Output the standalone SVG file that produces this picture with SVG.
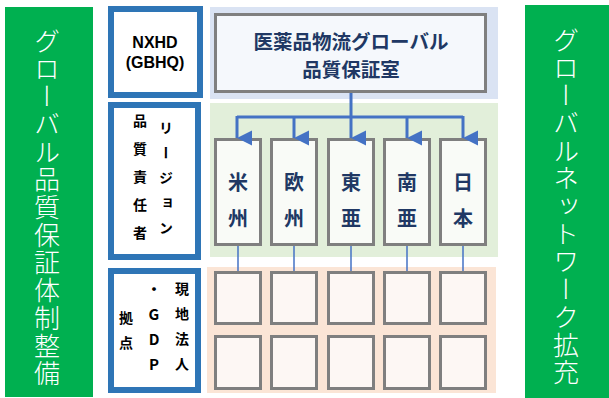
<svg xmlns="http://www.w3.org/2000/svg" width="609" height="398" viewBox="0 0 609 398">
<defs>
<style>
.jp{font-family:"Noto Sans CJK JP","Noto Sans",sans-serif;}
.side{fill:#ffffff;font-size:26px;font-weight:300;writing-mode:vertical-rl;text-anchor:middle;letter-spacing:1.7px;}
.blue{fill:none;stroke:#2e75b6;stroke-width:6;}
.gray{stroke:#7f7f7f;stroke-width:3;}
.lbl{fill:#000;font-size:14px;font-weight:700;writing-mode:vertical-rl;text-anchor:middle;}
.navy{fill:#203864;font-weight:700;text-anchor:middle;dominant-baseline:central;}
.conn{stroke:#4472c4;fill:none;}
</style>
<marker id="ah" markerUnits="userSpaceOnUse" markerWidth="16" markerHeight="16" viewBox="0 0 16 16" refX="8" refY="15" orient="auto-start-reverse">
<path d="M0.5,0 L15.5,0 L8,15 Z" fill="#4472c4"/>
</marker>
</defs>
<rect width="609" height="398" fill="#ffffff"/>

<g id="left-bar">
<rect x="5" y="7" width="88" height="390" fill="#00b050"/>
<text class="jp side" x="47" y="208">グローバル品質保証体制整備</text>
</g>
<g id="right-bar">
<rect x="525" y="5" width="84" height="393" fill="#00b050"/>
<text class="jp side" x="566" y="207">グローバルネットワーク拡充</text>
</g>

<g id="bands">
<rect x="210" y="7" width="288" height="92" fill="#dae3f3"/>
<rect x="210" y="103" width="288" height="154" fill="#e2efda"/>
<rect x="207" y="267" width="289" height="126" fill="#fbe5d6"/>
</g>

<g id="nxhd">
<rect x="111" y="9" width="89" height="86" fill="#f4f7fc" class="blue"/>
<text x="155" y="42" font-family="Liberation Sans,Arial,sans-serif" font-size="16" font-weight="700" text-anchor="middle" dominant-baseline="central">NXHD</text>
<text x="155" y="62" font-family="Liberation Sans,Arial,sans-serif" font-size="16" font-weight="700" text-anchor="middle" dominant-baseline="central">(GBHQ)</text>
</g>

<g id="region-head">
<rect x="111" y="105" width="87" height="152" fill="#e2efda" class="blue"/>
<text class="jp lbl" x="140" y="184" style="letter-spacing:14px">品質責任者</text>
<text class="jp lbl" x="166" y="183" style="letter-spacing:11px">リージョン</text>
</g>

<g id="local-head">
<rect x="111" y="271" width="87" height="119" fill="#fbe5d6" class="blue"/>
<text class="jp lbl" x="182" y="332" style="letter-spacing:11px">現地法人</text>
<text class="jp lbl" x="154" y="332" style="letter-spacing:10px;text-orientation:upright;font-size:15px">・GDP</text>
<text class="jp lbl" x="126" y="336" style="letter-spacing:11px">拠点</text>
</g>

<g id="hq">
<rect x="215.5" y="14.5" width="270" height="77" fill="#f5f8fc" class="gray"/>
<text class="jp navy" x="351" y="40" font-size="19.5">医薬品物流グローバル</text>
<text class="jp navy" x="351" y="68" font-size="19.5">品質保証室</text>
</g>

<g id="regions">
<g id="r-us"><rect x="215.5" y="139.5" width="45" height="105" fill="#f9fbf7" class="gray"/><text class="jp navy" x="238" y="181" font-size="20">米</text><text class="jp navy" x="238" y="217" font-size="20">州</text></g>
<g id="r-eu"><rect x="271.5" y="139.5" width="45" height="105" fill="#f9fbf7" class="gray"/><text class="jp navy" x="294" y="181" font-size="20">欧</text><text class="jp navy" x="294" y="217" font-size="20">州</text></g>
<g id="r-ea"><rect x="328.5" y="139.5" width="45" height="105" fill="#f9fbf7" class="gray"/><text class="jp navy" x="351" y="181" font-size="20">東</text><text class="jp navy" x="351" y="217" font-size="20">亜</text></g>
<g id="r-sa"><rect x="384.5" y="139.5" width="45" height="105" fill="#f9fbf7" class="gray"/><text class="jp navy" x="407" y="181" font-size="20">南</text><text class="jp navy" x="407" y="217" font-size="20">亜</text></g>
<g id="r-jp"><rect x="440.5" y="139.5" width="45" height="105" fill="#f9fbf7" class="gray"/><text class="jp navy" x="463" y="181" font-size="20">日</text><text class="jp navy" x="463" y="217" font-size="20">本</text></g>
</g>

<g id="sites" fill="#fdf7f4">
<rect x="215.5" y="272.5" width="45" height="51" class="gray"/>
<rect x="271.5" y="272.5" width="45" height="51" class="gray"/>
<rect x="328.5" y="272.5" width="45" height="51" class="gray"/>
<rect x="384.5" y="272.5" width="45" height="51" class="gray"/>
<rect x="440.5" y="272.5" width="45" height="51" class="gray"/>
<rect x="215.5" y="336.5" width="45" height="52" class="gray"/>
<rect x="271.5" y="336.5" width="45" height="52" class="gray"/>
<rect x="328.5" y="336.5" width="45" height="52" class="gray"/>
<rect x="384.5" y="336.5" width="45" height="52" class="gray"/>
<rect x="440.5" y="336.5" width="45" height="52" class="gray"/>
</g>

<g id="connectors">
<path class="conn" stroke-width="3" d="M351,93 V117 M237,117 H463"/>
<line class="conn" stroke-width="3" x1="237" y1="116" x2="237" y2="138" marker-end="url(#ah)"/>
<line class="conn" stroke-width="3" x1="294" y1="116" x2="294" y2="138" marker-end="url(#ah)"/>
<line class="conn" stroke-width="3" x1="351" y1="116" x2="351" y2="138" marker-end="url(#ah)"/>
<line class="conn" stroke-width="3" x1="407" y1="116" x2="407" y2="138" marker-end="url(#ah)"/>
<line class="conn" stroke-width="3" x1="463" y1="116" x2="463" y2="138" marker-end="url(#ah)"/>
<line class="conn" stroke-width="1.5" x1="238" y1="246" x2="238" y2="271"/>
<line class="conn" stroke-width="1.5" x1="294" y1="246" x2="294" y2="271"/>
<line class="conn" stroke-width="1.5" x1="351" y1="246" x2="351" y2="271"/>
<line class="conn" stroke-width="1.5" x1="407" y1="246" x2="407" y2="271"/>
<line class="conn" stroke-width="1.5" x1="463" y1="246" x2="463" y2="271"/>
</g>
</svg>
